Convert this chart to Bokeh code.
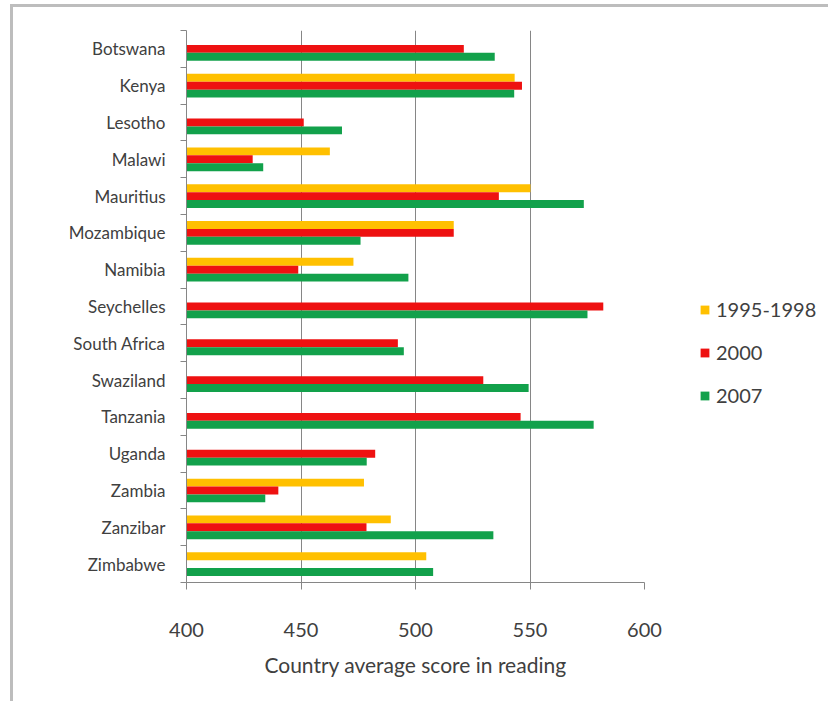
from bokeh.plotting import figure
from bokeh.models import (Range1d, LinearAxis, FixedTicker, Grid, Legend, LegendItem,
                          ColumnDataSource)
from bokeh.transform import dodge
from bokeh.embed import file_html
from bokeh.resources import INLINE

countries = ["Botswana", "Kenya", "Lesotho", "Malawi", "Mauritius", "Mozambique",
             "Namibia", "Seychelles", "South Africa", "Swaziland", "Tanzania",
             "Uganda", "Zambia", "Zanzibar", "Zimbabwe"]
series_names = ["1995-1998", "2000", "2007"]
# None = no score for that round
score_1995_1998 = [None, 543.3, None, 462.6, 550.2, 516.7, 472.9, None, None, None,
                   None, None, 477.5, 489.2, 504.7]
score_2000 = [521.1, 546.5, 451.2, 428.9, 536.4, 516.7, 448.8, 582.0, 492.3, 529.6,
              545.9, 482.4, 440.1, 478.6, None]
score_2007 = [534.6, 543.1, 467.9, 433.5, 573.5, 476.0, 496.9, 575.1, 494.9, 549.4,
              577.8, 478.7, 434.4, 534.0, 507.7]
x_ticks = [400, 450, 500, 550, 600]

FONT = "Lato"
TEXT = "#404040"
GRID = "#868686"
colors = ["#FFC000", "#EE1111", "#12A14B"]

n = len(countries)
# first country on top: row centre of country i is n - i - 0.5
centres = [n - i - 0.5 for i in range(n)]

p = figure(frame_width=458, frame_height=552, output_backend="svg", toolbar_location=None,
           y_range=Range1d(0, n), x_range=Range1d(400, 600),
           min_border_left=173, min_border_right=184, min_border_top=23,
           min_border_bottom=119, x_axis_location=None, y_axis_location=None)
# grey chart-area frame on the top and left
p.styles = {"margin-left": "10px", "margin-top": "4px",
            "border-left": "3px solid #BDBDBD", "border-top": "3px solid #BDBDBD"}
p.outline_line_color = None
p.background_fill_color = "white"
p.border_fill_color = "white"
p.ygrid.grid_line_color = None
p.xgrid.grid_line_color = None

bar_h = 0.215
offsets = [bar_h, 0.0, -bar_h]
renderers = []
for name, vals, col, off in zip(series_names, [score_1995_1998, score_2000, score_2007],
                                colors, offsets):
    ys = [c for c, v in zip(centres, vals) if v is not None]
    vs = [v for v in vals if v is not None]
    src = ColumnDataSource(dict(row=ys, score=vs))
    r = p.hbar(y=dodge("row", off), left=400, right="score",
               height=bar_h, source=src, fill_color=col, line_color=None)
    renderers.append(r)

# score axis
xaxis = LinearAxis(ticker=FixedTicker(ticks=x_ticks))
xaxis.axis_line_color = GRID
xaxis.major_tick_line_color = GRID
xaxis.major_tick_out = 7
xaxis.major_tick_in = 0
xaxis.minor_tick_line_color = None
xaxis.major_label_text_font = FONT
xaxis.major_label_text_font_size = "20px"
xaxis.major_label_text_color = TEXT
xaxis.major_label_standoff = 33
xaxis.axis_label = "Country average score in reading"
xaxis.axis_label_text_font = FONT
xaxis.axis_label_text_font_size = "21px"
xaxis.axis_label_text_font_style = "normal"
xaxis.axis_label_text_color = TEXT
xaxis.axis_label_standoff = 12
p.add_layout(xaxis, "below")

# vertical grid lines at 450..600
p.add_layout(Grid(dimension=0, ticker=FixedTicker(ticks=x_ticks[1:]),
                  grid_line_color=GRID, grid_line_width=1))

# country axis: names at row centres, tick marks at row boundaries
yaxis = LinearAxis(ticker=FixedTicker(ticks=centres, minor_ticks=list(range(n + 1))))
yaxis.major_label_overrides = {c: name for c, name in zip(centres, countries)}
yaxis.axis_line_color = GRID
yaxis.major_tick_line_color = None
yaxis.major_tick_out = 0
yaxis.major_tick_in = 0
yaxis.minor_tick_line_color = GRID
yaxis.minor_tick_out = 6
yaxis.minor_tick_in = 0
yaxis.major_label_text_font = FONT
yaxis.major_label_text_font_size = "17px"
yaxis.major_label_text_color = TEXT
yaxis.major_label_standoff = 15
p.add_layout(yaxis, "left")

legend = Legend(items=[LegendItem(label=s, renderers=[r]) for s, r in zip(series_names, renderers)],
                location=(55, 175), orientation="vertical")
legend.label_text_font = FONT
legend.label_text_font_size = "20px"
legend.label_text_color = TEXT
legend.glyph_width = 11
legend.glyph_height = 11
legend.label_standoff = 6
legend.spacing = 19
legend.padding = 0
legend.margin = 0
legend.border_line_color = None
legend.background_fill_alpha = 0
p.add_layout(legend, "right")

open("out.html", "w").write(file_html(p, INLINE))
